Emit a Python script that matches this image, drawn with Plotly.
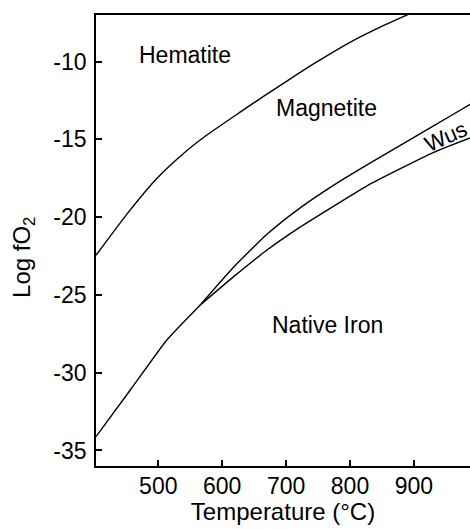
import plotly.graph_objects as go

# Hematite / Magnetite buffer
temp_hm = [402.5, 450, 498, 539, 576, 628, 664, 706, 748, 800, 852, 886, 920]
logfo2_hm = [-22.45, -19.85, -17.5, -15.92, -14.72, -13.25, -12.25, -11.12, -10.02, -8.76, -7.69, -7.05, -6.45]

# Iron / Magnetite (below triple point)
temp_im = [402.5, 457.3, 513.1, 565.3]
logfo2_im = [-34.11, -31.05, -27.91, -25.66]

# Magnetite / Wustite
temp_mw = [565.3, 617, 670, 722, 774, 826, 878, 930, 988, 1000]
logfo2_mw = [-25.66, -23.25, -21.1, -19.4, -17.95, -16.65, -15.4, -14.15, -12.75, -12.47]

# Wustite / Iron
temp_wi = [565.3, 617.4, 669.6, 721.8, 774, 826, 878, 930, 988, 1000]
logfo2_wi = [-25.66, -23.84, -22.13, -20.64, -19.3, -18.0, -16.9, -15.85, -14.9, -14.72]

x_ticks = [500, 600, 700, 800, 900]
x_tick_labels = ["500", "600", "700", "800", "900"]
y_ticks = [-35, -30, -25, -20, -15, -10]
y_tick_labels = ["-35", "-30", "-25", "-20", "-15", "-10"]

field_names = ["Hematite", "Magnetite", "Native Iron", "Wus"]
field_x = [541.8, 763, 764.8, 950]
field_y = [-9.55, -12.98, -26.94, -14.8]
field_angle = [0, 0, 0, -24]

FONT = "Liberation Sans, Arial, sans-serif"
line_style = dict(color="black", width=1.4)

fig = go.Figure()
for xs, ys in [(temp_hm, logfo2_hm), (temp_im, logfo2_im), (temp_mw, logfo2_mw), (temp_wi, logfo2_wi)]:
    fig.add_trace(go.Scatter(x=xs, y=ys, mode="lines", line=dict(shape="spline", smoothing=0.5, **line_style),
                             showlegend=False, hoverinfo="skip"))

for name, xv, yv, ang in zip(field_names, field_x, field_y, field_angle):
    fig.add_annotation(x=xv, y=yv, xref="x", yref="y", text=name, showarrow=False, textangle=ang,
                       font=dict(family=FONT, size=23 if ang == 0 else 22, color="black"))

fig.add_annotation(xref="paper", yref="paper", x=(24 - 96) / 374, y=1 - (258 - 14.5) / 452,
                   text="Log fO<sub>2</sub>", textangle=-90, showarrow=False,
                   xanchor="center", yanchor="middle",
                   font=dict(family=FONT, size=24, color="black"))

fig.update_layout(
    width=470, height=529,
    margin=dict(l=96, r=0, t=14.5, b=62.5),
    paper_bgcolor="white", plot_bgcolor="white",
    font=dict(family=FONT, size=23, color="black"),
    xaxis=dict(range=[402.5, 987.8], tickvals=x_ticks, ticktext=x_tick_labels, ticks="inside",
               ticklen=6, tickwidth=1.5, tickcolor="black", showline=True, linecolor="black",
               linewidth=1.8, mirror=True, showgrid=False, zeroline=False, ticklabelstandoff=-2,
               title=dict(text="Temperature (°C)", font=dict(family=FONT, size=24), standoff=6)),
    yaxis=dict(range=[-36, -7], tickvals=y_ticks, ticktext=y_tick_labels, ticks="inside",
               ticklen=6, tickwidth=1.5, tickcolor="black", showline=True, linecolor="black",
               linewidth=1.8, mirror=False, showgrid=False, zeroline=False, ticklabelstandoff=3),
)

fig.write_html(
    "out.html",
    config={"displayModeBar": False},
    post_script="document.body.style.margin='0';document.body.style.overflow='hidden';",
)
